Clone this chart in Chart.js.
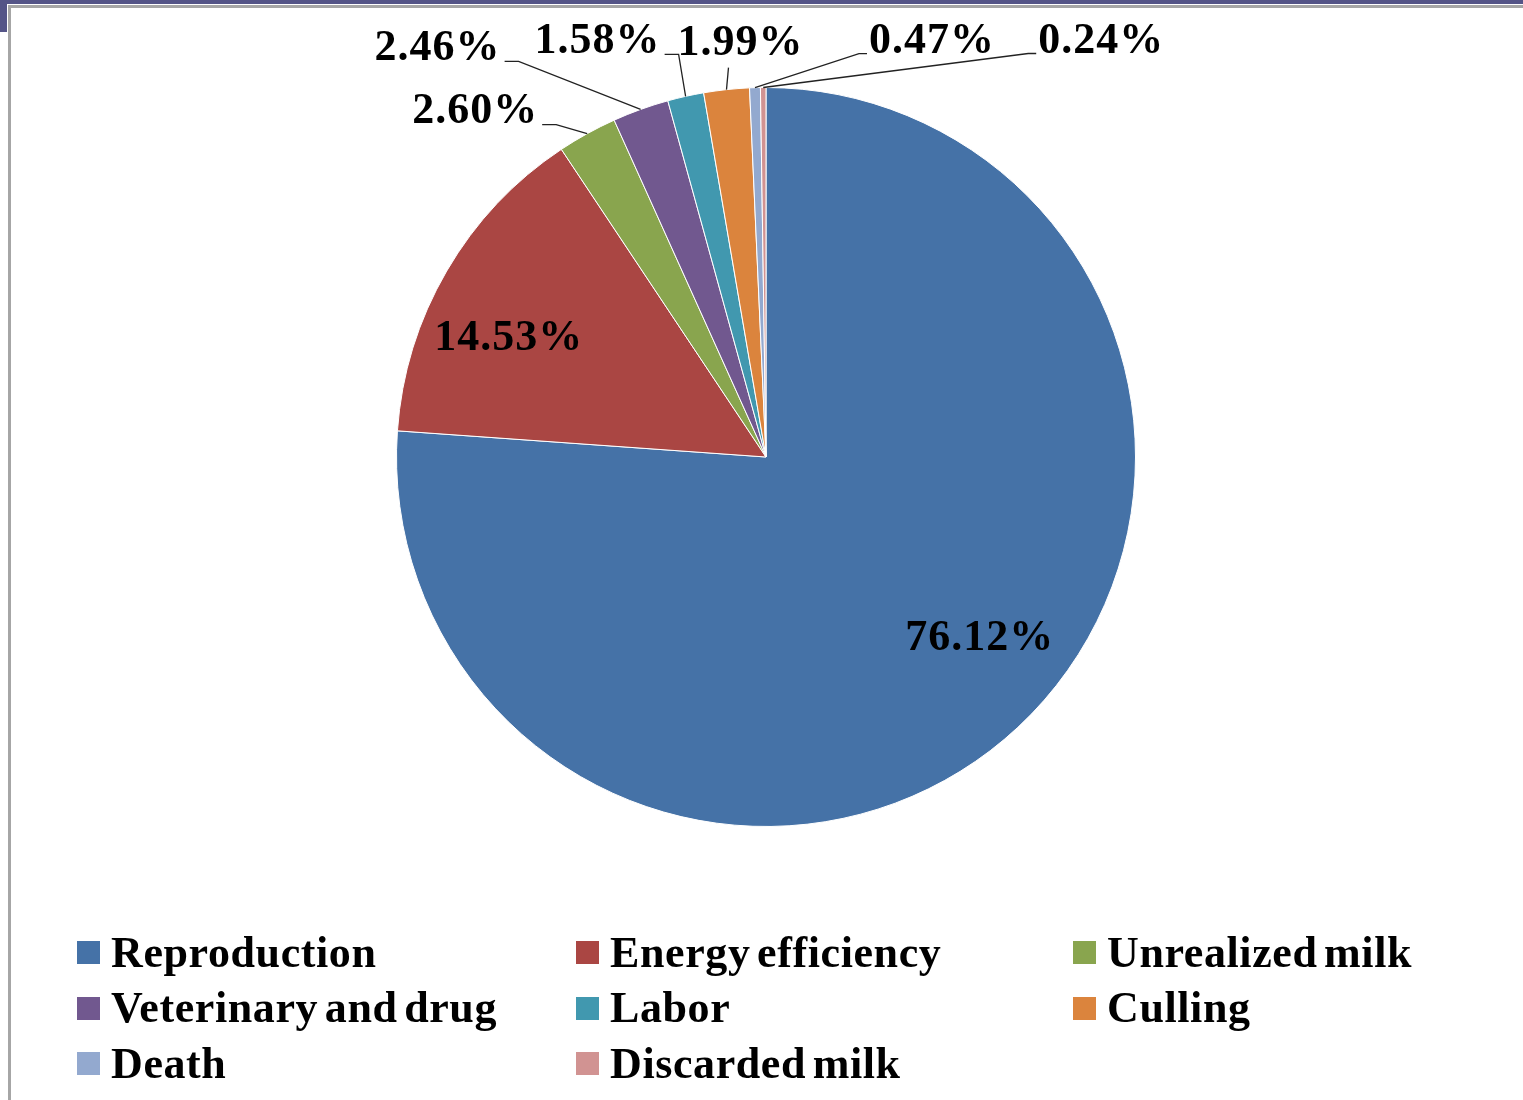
<!DOCTYPE html>
<html>
<head>
<meta charset="utf-8">
<script src="https://cdn.jsdelivr.net/npm/chart.js@4.4.1/dist/chart.umd.min.js"></script>
<style>
  html, body { margin: 0; padding: 0; background: #fff; }
  body { width: 1523px; height: 1100px; position: relative; overflow: hidden; font-family: "Liberation Serif", "Times New Roman", serif; }
  #topBar { position: absolute; left: 0; top: 0; width: 1523px; height: 4px; background: #545487; }
  #topBlock { position: absolute; left: 0; top: 0; width: 7px; height: 32px; background: #545487; }
  #frame { position: absolute; left: 8px; top: 5px; width: 1530px; height: 1200px; border-left: 3px solid #a6a6a6; border-top: 3px solid #a6a6a6; box-sizing: border-box; }
  #pieChart { position: absolute; left: 0; top: 0; }
  #legend { position: absolute; left: 77px; top: 925px; display: grid; grid-template-columns: 499px 497px 400px; grid-auto-rows: 55.5px; }
  .item { display: flex; align-items: center; font-weight: bold; font-size: 44px; line-height: 1; color: #000; white-space: nowrap; letter-spacing: 0.6px; word-spacing: -5px; }
  .box { width: 23px; height: 23px; margin-right: 11px; flex: none; }
</style>
</head>
<body>
<div id="frame"></div>
<div id="topBar"></div>
<div id="topBlock"></div>
<canvas id="pieChart" width="1523" height="1100"></canvas>
<div id="legend"></div>
<script>
// Cost shares, clockwise from 12 o'clock
const categories = ['Reproduction', 'Energy efficiency', 'Unrealized milk', 'Veterinary and drug', 'Labor', 'Culling', 'Death', 'Discarded milk'];
const shares = [76.12, 14.53, 2.60, 2.46, 1.58, 1.99, 0.47, 0.24];
const shareLabels = ['76.12%', '14.53%', '2.60%', '2.46%', '1.58%', '1.99%', '0.47%', '0.24%'];
const colors = ['#4572A7', '#AA4643', '#89A54E', '#71588F', '#4198AF', '#DB843D', '#93A9CF', '#D19392'];

// label offset from the slice's outer-edge midpoint: [dx, dy, leader line?]
const labelOffsets = [[-38, -89, false], [62, 68, false], [-112, -22, true], [-203, -61, true], [-88, -55, true], [14, -46, true], [177, -46, true], [338, -46, true]];

const labelFont = 'bold 44px "Liberation Serif", "Times New Roman", serif';

const pieLabels = {
    id: 'pieLabels',
    afterDatasetsDraw(chart) {
        const ctx = chart.ctx;
        const arcs = chart.getDatasetMeta(0).data;
        ctx.save();
        ctx.font = labelFont;
        ctx.letterSpacing = '1px';
        ctx.textAlign = 'center';
        ctx.textBaseline = 'middle';
        arcs.forEach((arc, i) => {
            const p = arc.getProps(['x', 'y', 'startAngle', 'endAngle', 'outerRadius'], true);
            const a = (p.startAngle + p.endAngle) / 2;
            const ex = p.x + p.outerRadius * Math.cos(a);
            const ey = p.y + p.outerRadius * Math.sin(a);
            const [dx, dy, leader] = labelOffsets[i];
            const cx = ex + dx, cy = ey + dy;
            const w = ctx.measureText(shareLabels[i]).width;

            if (leader) {
                ctx.beginPath();
                ctx.strokeStyle = '#222';
                ctx.lineWidth = 1.3;
                if (Math.abs(dx) < w / 2) {
                    ctx.moveTo(ex + 2, cy + 24);
                    ctx.lineTo(ex, ey);
                } else if (dx < 0) {
                    const ax = cx + w / 2 + 4, ay = cy + 13;
                    ctx.moveTo(ax, ay);
                    ctx.lineTo(ax + 14, ay);
                    ctx.lineTo(ex, ey);
                } else {
                    const ax = cx - w / 2 - 2, ay = cy + 12;
                    ctx.moveTo(ax, ay);
                    ctx.lineTo(ax - 8, ay);
                    ctx.lineTo(ex, ey);
                }
                ctx.stroke();
            }
            ctx.fillStyle = '#000';
            ctx.fillText(shareLabels[i], cx, cy);
        });
        ctx.restore();
    }
};

const chart = new Chart(document.getElementById('pieChart'), {
    type: 'pie',
    data: {
        labels: categories,
        datasets: [{
            data: shares,
            backgroundColor: colors,
            borderColor: '#ffffff',
            borderWidth: 1
        }]
    },
    options: {
        responsive: false,
        animation: false,
        layout: { padding: { left: 396, right: 387, top: 87, bottom: 273 } },
        plugins: {
            legend: { display: false },
            tooltip: { enabled: false }
        }
    },
    plugins: [pieLabels]
});

// legend, three columns, row by row
const legend = document.getElementById('legend');
categories.forEach((name, i) => {
    const item = document.createElement('div');
    item.className = 'item';
    const box = document.createElement('span');
    box.className = 'box';
    box.style.background = colors[i];
    item.appendChild(box);
    item.appendChild(document.createTextNode(name));
    legend.appendChild(item);
});
</script>
</body>
</html>
